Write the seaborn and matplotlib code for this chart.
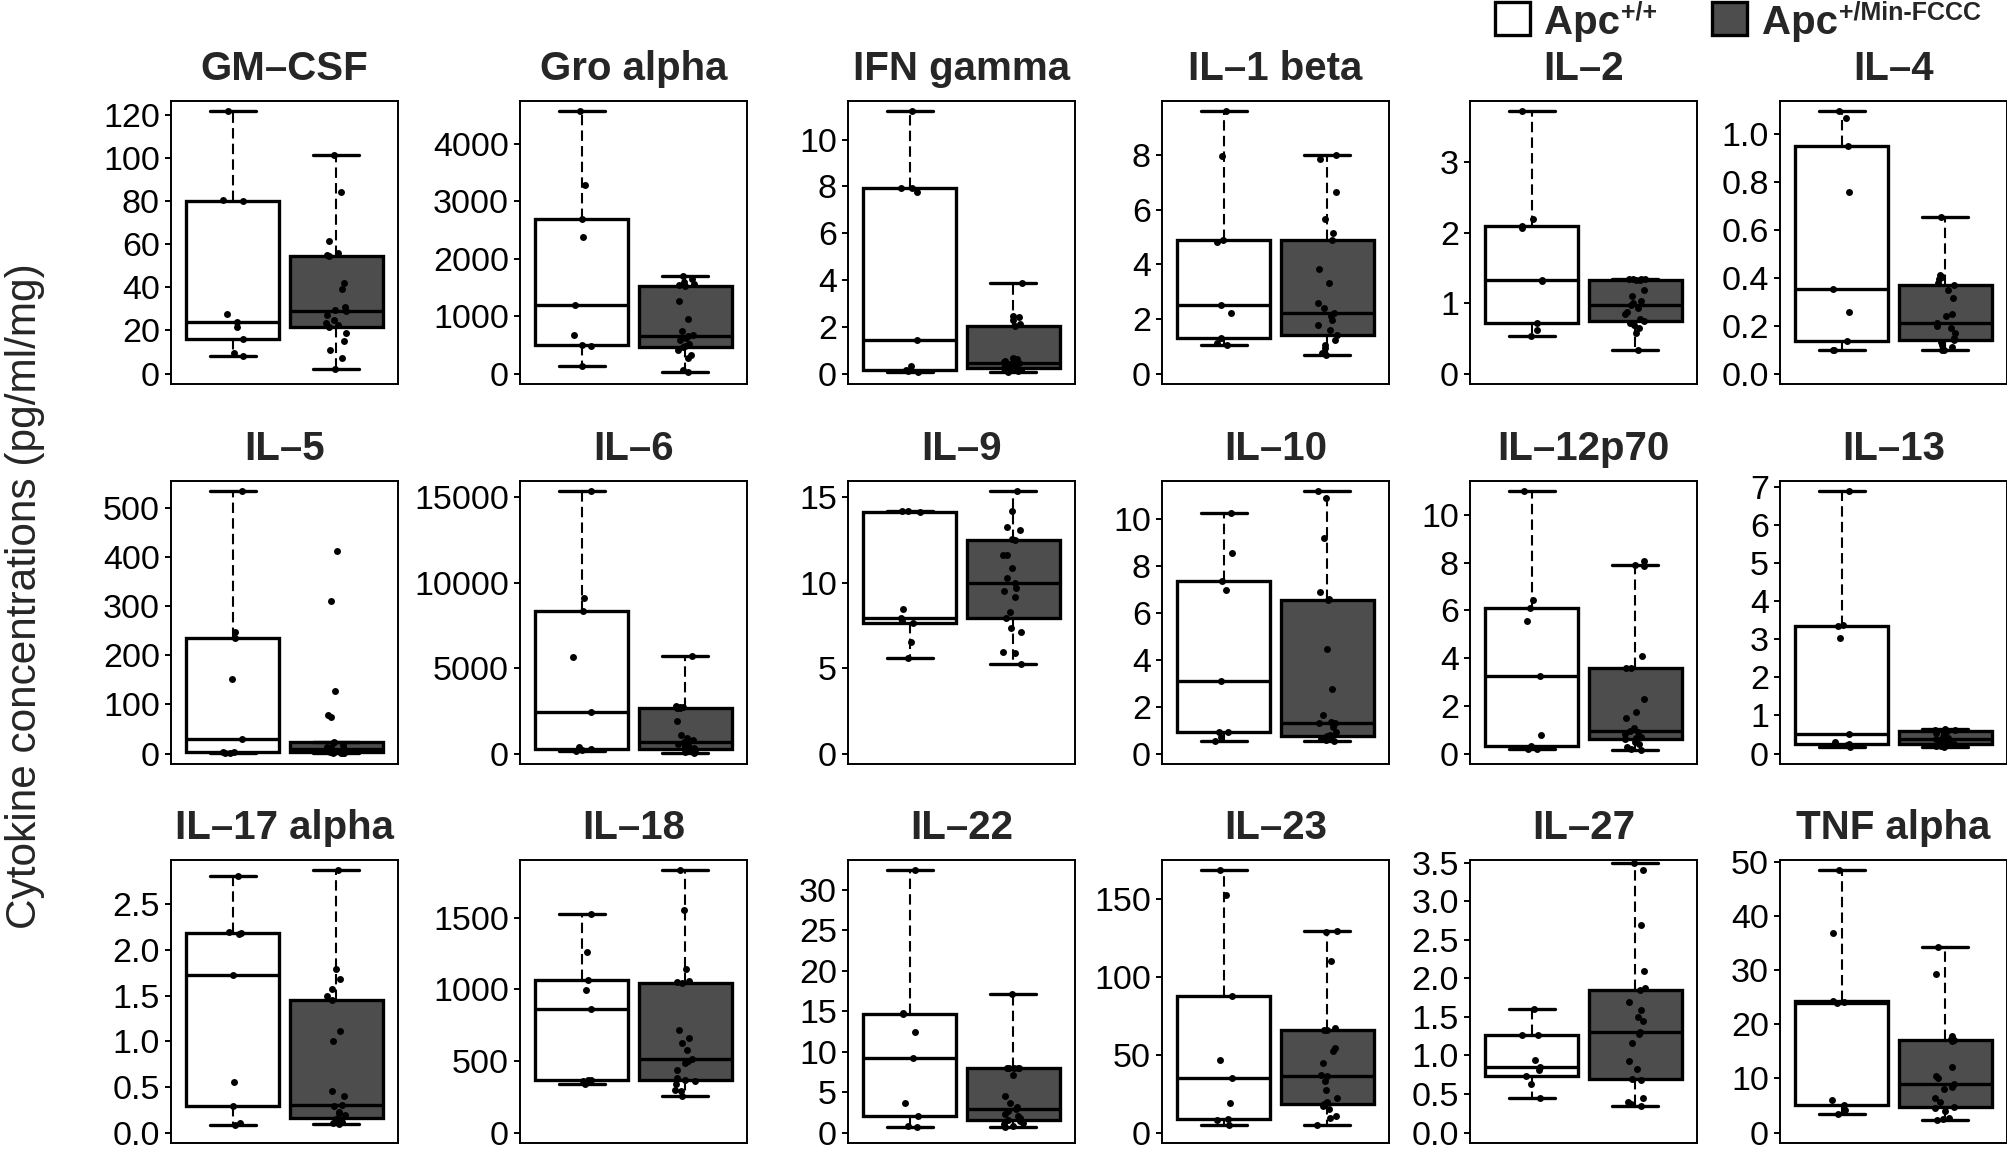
import numpy as np
import pandas as pd
import seaborn as sns
import matplotlib.pyplot as plt
from matplotlib.patches import Rectangle
from matplotlib.ticker import MultipleLocator, FormatStrFormatter

# values (pg/ml/mg), one list per genotype
gm_csf_wt = [8, 9.5, 15.8, 21.5, 24, 27.5, 80, 80.5, 121.5]
gm_csf_min = [2.3, 7.3, 11, 15, 18.8, 21.5, 22.5, 23.5, 25, 27.3, 28.9, 29.5, 30.9, 39, 42, 54.6, 55, 56, 61.3, 84, 101.5]
gro_alpha_wt = [128, 476, 505, 679, 1202, 2380, 2700, 3292, 4569]
gro_alpha_min = [29, 70, 273, 320, 418, 464, 476, 520, 592, 620, 662, 679, 750, 952, 1260, 1533, 1540, 1560, 1600, 1650, 1695]
ifn_gamma_wt = [0.07, 0.1, 0.14, 0.3, 1.45, 7.76, 7.93, 7.95, 11.2]
ifn_gamma_min = [0.07, 0.1, 0.15, 0.2, 0.22, 0.25, 0.28, 0.3, 0.35, 0.4, 0.45, 0.5, 0.55, 0.6, 0.65, 2.05, 2.1, 2.3, 2.4, 2.45, 3.85]
il1b_wt = [1.06, 1.12, 1.3, 2.22, 2.52, 4.8, 4.9, 7.97, 9.59]
il1b_min = [0.67, 0.75, 0.94, 1.06, 1.24, 1.4, 1.6, 1.79, 1.95, 2.1, 2.22, 2.4, 2.58, 3.31, 3.82, 4.9, 5.14, 5.65, 6.63, 7.85, 7.98]
il2_wt = [0.53, 0.62, 0.72, 1.32, 1.33, 2.06, 2.09, 2.19, 3.72]
il2_min = [0.34, 0.58, 0.65, 0.69, 0.72, 0.74, 0.77, 0.85, 0.88, 0.93, 0.97, 1.0, 1.03, 1.1, 1.19, 1.33, 1.33, 1.34, 1.34, 1.34, 1.34]
il4_wt = [0.097, 0.1, 0.135, 0.257, 0.353, 0.757, 0.949, 1.067, 1.095]
il4_min = [0.097, 0.1, 0.11, 0.12, 0.13, 0.142, 0.15, 0.17, 0.19, 0.2, 0.211, 0.239, 0.25, 0.316, 0.35, 0.371, 0.38, 0.395, 0.403, 0.41, 0.656]
il5_wt = [1.4, 2.0, 3.4, 3.8, 30.6, 152, 235, 248, 534]
il5_min = [0.5, 1, 1.5, 2, 2.5, 3, 4, 5, 7, 9, 10, 12, 14, 18, 22, 23.8, 75, 78, 128, 310, 413]
il6_wt = [137, 195, 254, 390, 2441, 5664, 8340, 9082, 15332]
il6_min = [20, 100, 150, 195, 250, 293, 350, 420, 488, 560, 645, 781, 879, 1074, 1895, 2676, 2690, 2710, 2734, 2760, 5703]
il9_wt = [5.57, 6.54, 7.62, 7.75, 7.91, 8.46, 14.14, 14.16, 14.18]
il9_min = [5.23, 5.86, 5.96, 7.13, 7.32, 7.95, 8.3, 9.18, 9.5, 9.7, 9.96, 10.25, 10.84, 11.62, 11.62, 12.5, 12.55, 13.1, 13.28, 14.16, 15.33]
il10_wt = [0.54, 0.71, 0.9, 0.93, 3.09, 6.97, 7.35, 8.53, 10.27]
il10_min = [0.54, 0.57, 0.62, 0.68, 0.71, 0.75, 0.78, 0.92, 1.14, 1.28, 1.32, 1.35, 1.64, 2.75, 4.45, 6.54, 6.6, 6.9, 9.17, 10.9, 11.17]
il12_wt = [0.18, 0.21, 0.32, 0.77, 3.26, 5.55, 6.08, 6.43, 10.98]
il12_min = [0.14, 0.18, 0.28, 0.4, 0.49, 0.6, 0.65, 0.7, 0.8, 0.9, 0.94, 1.05, 1.5, 1.75, 2.28, 3.57, 3.6, 4.1, 7.87, 7.9, 8.07]
il13_wt = [0.17, 0.22, 0.26, 0.31, 0.5, 3.02, 3.34, 3.36, 6.87]
il13_min = [0.17, 0.19, 0.2, 0.22, 0.23, 0.24, 0.27, 0.3, 0.33, 0.36, 0.38, 0.4, 0.44, 0.5, 0.55, 0.6, 0.6, 0.61, 0.62, 0.62, 0.63]
il17_wt = [0.084, 0.1, 0.29, 0.55, 1.73, 2.17, 2.19, 2.2, 2.81]
il17_min = [0.09, 0.1, 0.12, 0.14, 0.15, 0.157, 0.19, 0.21, 0.23, 0.29, 0.3, 0.4, 0.45, 1.0, 1.11, 1.45, 1.49, 1.57, 1.68, 1.79, 2.87]
il18_wt = [341, 357, 364, 369, 863, 998, 1068, 1260, 1528]
il18_min = [252, 287, 299, 340, 360, 369, 380, 439, 485, 500, 513, 578, 625, 660, 714, 1045, 1050, 1060, 1143, 1554, 1831]
il22_wt = [0.66, 0.83, 2.0, 3.7, 9.2, 12.4, 14.7, 14.75, 32.4]
il22_min = [0.74, 0.8, 1.0, 1.2, 1.4, 1.57, 1.8, 2.0, 2.3, 2.6, 2.9, 3.2, 3.6, 4.5, 7.15, 7.98, 7.98, 7.98, 7.98, 7.98, 17.07]
il23_wt = [4.9, 8.1, 8.8, 18.9, 34.9, 46.3, 87.9, 152.3, 168.2]
il23_min = [4.9, 9.2, 10.3, 15, 17, 18.4, 19.3, 22, 27.4, 33, 36, 36.6, 44.6, 52.5, 54.2, 65.6, 66, 67, 110.4, 128.8, 129.6]
il27_wt = [0.454, 0.63, 0.735, 0.81, 0.856, 0.94, 1.266, 1.27, 1.6]
il27_min = [0.34, 0.37, 0.4, 0.445, 0.68, 0.7, 0.83, 0.93, 1.16, 1.28, 1.31, 1.45, 1.5, 1.59, 1.69, 1.85, 1.88, 2.09, 2.69, 3.41, 3.5]
tnf_wt = [3.46, 4.2, 5.1, 6.0, 23.9, 24.1, 24.3, 37.0, 48.5]
tnf_min = [2.35, 2.5, 2.65, 3.9, 4.5, 4.8, 5.7, 6.4, 8.0, 8.5, 9.0, 10.1, 10.4, 12.1, 16.9, 17.2, 17.3, 17.5, 17.8, 29.4, 34.3]

cytokines = ['GM–CSF', 'Gro alpha', 'IFN gamma', 'IL–1 beta', 'IL–2', 'IL–4',
             'IL–5', 'IL–6', 'IL–9', 'IL–10', 'IL–12p70', 'IL–13',
             'IL–17 alpha', 'IL–18', 'IL–22', 'IL–23', 'IL–27', 'TNF alpha']
wt_lists = [gm_csf_wt, gro_alpha_wt, ifn_gamma_wt, il1b_wt, il2_wt, il4_wt,
            il5_wt, il6_wt, il9_wt, il10_wt, il12_wt, il13_wt,
            il17_wt, il18_wt, il22_wt, il23_wt, il27_wt, tnf_wt]
min_lists = [gm_csf_min, gro_alpha_min, ifn_gamma_min, il1b_min, il2_min, il4_min,
             il5_min, il6_min, il9_min, il10_min, il12_min, il13_min,
             il17_min, il18_min, il22_min, il23_min, il27_min, tnf_min]
tick_step = [20, 1000, 2, 2, 1, 0.2, 100, 5000, 5, 2, 2, 1, 0.5, 500, 5, 50, 0.5, 10]
y_top_override = {'IL–27': 3.4}

genotypes = ['Apc+/+', 'Apc+/Min-FCCC']
box_colors = {'Apc+/+': 'white', 'Apc+/Min-FCCC': '#4d4d4d'}

rows = []
for name, wt, mn in zip(cytokines, wt_lists, min_lists):
    rows += [(name, genotypes[0], v) for v in wt]
    rows += [(name, genotypes[1], v) for v in mn]
df = pd.DataFrame(rows, columns=['cytokine', 'genotype', 'value'])

sns.set_style('white')
plt.rcParams['font.family'] = ['Liberation Sans', 'DejaVu Sans']
plt.rcParams['axes.edgecolor'] = 'black'
np.random.seed(4)

W, H = 2008, 1151
fig = plt.figure(figsize=(W / 100, H / 100), dpi=100)

# panel grid in pixels
col_left = [171, 520, 848, 1162, 1470, 1780]
row_top = [101, 481, 860]
ax_w, ax_h = 227, 283

for i, name in enumerate(cytokines):
    r, c = divmod(i, 6)
    ax = fig.add_axes([col_left[c] / W, 1 - (row_top[r] + ax_h) / H, ax_w / W, ax_h / H])
    sub = df[df['cytokine'] == name]
    sns.boxplot(data=sub, x='genotype', y='value', hue='genotype', order=genotypes,
                hue_order=genotypes, palette=box_colors, saturation=1, width=0.9,
                linecolor='black', linewidth=2.4, whis=1.5, showfliers=False,
                whiskerprops={'linestyle': (0, (5, 2.5)), 'linewidth': 1.5},
                legend=False, ax=ax)
    sns.stripplot(data=sub, x='genotype', y='value', order=genotypes, color='black',
                  size=5, jitter=0.1, linewidth=0, ax=ax, zorder=5)
    top = y_top_override.get(name, sub['value'].max())
    ax.set_ylim(-0.04 * top, 1.04 * top)
    ax.set_xlim(-0.6, 1.6)
    step = tick_step[i]
    ax.yaxis.set_major_locator(MultipleLocator(step))
    ax.yaxis.set_major_formatter(FormatStrFormatter('%.1f' if step < 1 else '%d'))
    ax.set_xticks([])
    ax.set_xlabel('')
    ax.set_ylabel('')
    ax.tick_params(axis='y', left=True, length=4.5, width=1.4, labelsize=24.5, pad=3.5,
                   colors='black')
    for sp in ax.spines.values():
        sp.set_visible(True)
        sp.set_linewidth(1.4)
        sp.set_color('black')
    ax.set_title(name, fontsize=29, fontweight='bold', pad=15)

fig.text(25 / W, 1 - 596 / H, 'Cytokine concentrations (pg/ml/mg)', rotation=90,
         ha='center', va='center', fontsize=30.5)

# legend drawn by hand to get the superscripts
legend_items = [(1495, 1544, '+/+', 'white'), (1712, 1762, '+/Min-FCCC', '#4d4d4d')]
for sq_x, txt_x, sup, fc in legend_items:
    fig.add_artist(Rectangle((sq_x / W, 1 - 35 / H), 35 / W, 33 / H, transform=fig.transFigure,
                             facecolor=fc, edgecolor='black', linewidth=2.4))
    t = fig.text(txt_x / W, 1 - 34 / H, 'Apc', fontsize=29, fontweight='bold', va='baseline')
    fig.add_artist(plt.Annotation(sup, xy=(1, 0), xycoords=t, xytext=(1, 16),
                                  textcoords='offset points', fontsize=18, fontweight='bold',
                                  va='baseline', ha='left'))

fig.savefig('out.png', dpi=100)
